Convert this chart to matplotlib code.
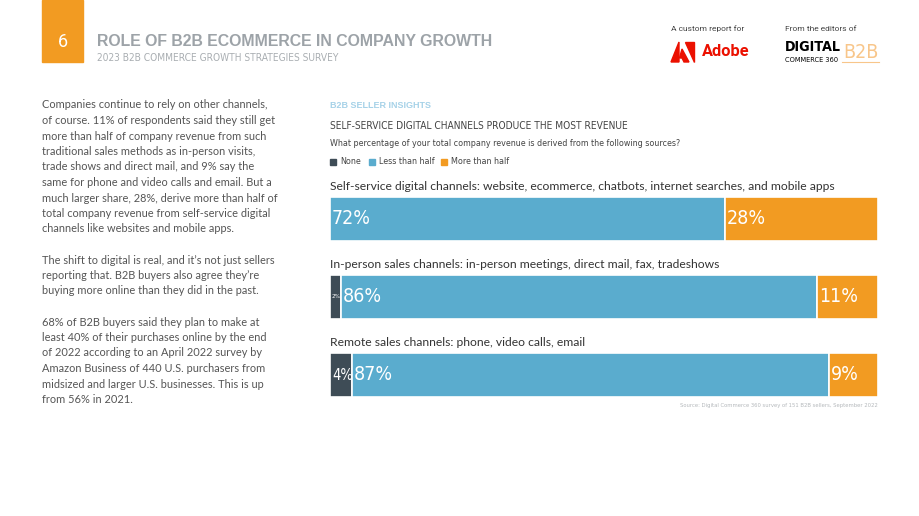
import matplotlib
matplotlib.use("Agg")
import matplotlib.pyplot as plt
from matplotlib.patches import Rectangle, Polygon

# --- data ---
categories = [
    "Self-service digital channels: website, ecommerce, chatbots, internet searches, and mobile apps",
    "In-person sales channels: in-person meetings, direct mail, fax, tradeshows",
    "Remote sales channels: phone, video calls, email",
]
none_vals = [0, 2, 4]
less_vals = [72, 86, 87]
more_vals = [28, 11, 9]
series_names = ["None", "Less than half", "More than half"]
colors = ["#3e4c56", "#5aacce", "#f29b22"]

body = ("Companies continue to rely on other channels,\n"
        "of course. 11% of respondents said they still get\n"
        "more than half of company revenue from such\n"
        "traditional sales methods as in-person visits,\n"
        "trade shows and direct mail, and 9% say the\n"
        "same for phone and video calls and email. But a\n"
        "much larger share, 28%, derive more than half of\n"
        "total company revenue from self-service digital\n"
        "channels like websites and mobile apps.\n"
        "\n"
        "The shift to digital is real, and it\u2019s not just sellers\n"
        "reporting that. B2B buyers also agree they\u2019re\n"
        "buying more online than they did in the past.\n"
        "\n"
        "68% of B2B buyers said they plan to make at\n"
        "least 40% of their purchases online by the end\n"
        "of 2022 according to an April 2022 survey by\n"
        "Amazon Business of 440 U.S. purchasers from\n"
        "midsized and larger U.S. businesses. This is up\n"
        "from 56% in 2021.")

W, H = 920, 516
# condensed face for the narrow headings / labels
cond = dict(family="DejaVu Sans", stretch="condensed")

fig = plt.figure(figsize=(W / 100, H / 100), dpi=100)


def fx(x):
    return x / W


def fy(y):
    return 1 - y / H


def txt(x, y, s, **kw):
    kw.setdefault("va", "center")
    fig.text(fx(x), fy(y), s, **kw)


# header
fig.patches.append(Rectangle((fx(42), fy(62)), fx(83) - fx(42), 62 / H,
                             transform=fig.transFigure, color="#f29b22"))
txt(62.5, 42, "6", color="white", fontsize=13, ha="center", family="Roboto")
txt(97, 42, "ROLE OF B2B ECOMMERCE IN COMPANY GROWTH", color="#9da3a8",
    fontsize=11.4, weight="bold", family="Liberation Sans")
txt(97, 58, "2023 B2B COMMERCE GROWTH STRATEGIES SURVEY", color="#a9aeb2",
    fontsize=7.3, **cond)

txt(671, 29, "A custom report for", color="#444444", fontsize=6, family="Roboto")
txt(785, 29, "From the editors of", color="#444444", fontsize=6, family="Roboto")
# adobe mark
fig.patches.append(Polygon([(fx(671), fy(62)), (fx(679), fy(42)), (fx(679), fy(62))],
                           closed=True, transform=fig.transFigure, color="#eb1000"))
fig.patches.append(Polygon([(fx(685), fy(42)), (fx(694), fy(42)), (fx(694), fy(62))],
                           closed=True, transform=fig.transFigure, color="#eb1000"))
fig.patches.append(Polygon([(fx(682), fy(49)), (fx(689), fy(62)), (fx(684), fy(62)), (fx(682), fy(58)),
                            (fx(679.5), fy(58))],
                           closed=True, transform=fig.transFigure, color="#eb1000"))
txt(702, 52, "Adobe", color="#eb1000", fontsize=11.8, weight="bold", family="Roboto")
txt(785, 47, "DIGITAL", color="black", fontsize=10.3, weight="bold", **cond)
txt(785, 60, "COMMERCE 360", color="black", fontsize=5.3, **cond)
txt(843, 52, "B2B", color="#f8c68a", fontsize=14, **cond)
fig.lines.append(plt.Line2D([fx(842), fx(879)], [fy(62), fy(62)],
                            transform=fig.transFigure, color="#f8c68a", lw=0.8))

# body text
txt(42, 99.5, body, color="#555555", fontsize=7.95, va="top", family="Lato",
    linespacing=1.5)

# chart header
txt(330, 105, "B2B SELLER INSIGHTS", color="#a6d2e8", fontsize=6.5,
    weight="bold", family="Liberation Sans")
txt(330, 126, "SELF-SERVICE DIGITAL CHANNELS PRODUCE THE MOST REVENUE",
    color="#444444", fontsize=7.3, **cond)
txt(330, 143, "What percentage of your total company revenue is derived from the following sources?",
    color="#444444", fontsize=6.4, **cond)

legend_x = [330, 369, 441]
for name, c, lx in zip(series_names, colors, legend_x):
    fig.patches.append(Rectangle((fx(lx), fy(164.5)), 6 / W, 6 / H,
                                 transform=fig.transFigure, color=c))
    fig.text(fx(lx + 10), fy(161.5), name, color="#444444", fontsize=6.4,
             va="center", **cond)

# bars
tops = [197, 275, 353]
for i, cat in enumerate(categories):
    txt(330, tops[i] - 10, cat, color="#333333", fontsize=8.7, family="Lato")
    ax = fig.add_axes([fx(330), fy(tops[i] + 44), 548 / W, 44 / H])
    vals = [none_vals[i], less_vals[i], more_vals[i]]
    left = 0
    for v, c in zip(vals, colors):
        if v > 0:
            ax.barh(0, v, left=left, height=1, color=c, edgecolor="white", linewidth=1.2)
            size = 4.5 if v < 3 else (10.5 if v < 6 else 14)
            ax.text(left + 0.35, 0, f"{v}%", color="white", fontsize=size,
                    va="center", ha="left", **cond)
        left += v
    ax.set_xlim(0, sum(vals))
    ax.set_ylim(-0.5, 0.5)
    ax.axis("off")

txt(878, 405, "Source: Digital Commerce 360 survey of 151 B2B sellers, September 2022",
    color="#b5b9bc", fontsize=4.2, ha="right", **cond)

fig.savefig("out.png", dpi=100)
